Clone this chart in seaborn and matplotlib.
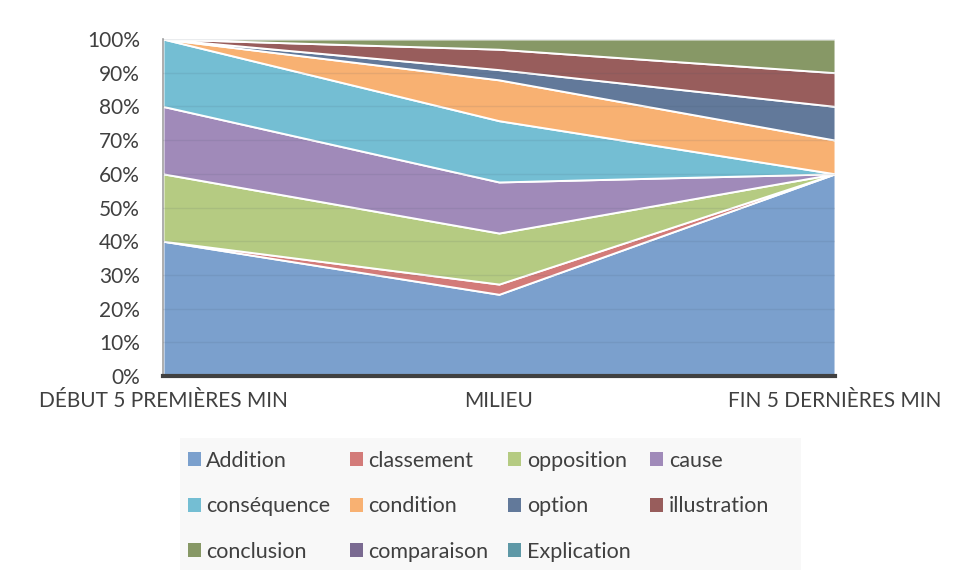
import numpy as np
import pandas as pd
import matplotlib
matplotlib.use("Agg")
import matplotlib.pyplot as plt
from matplotlib.patches import Rectangle
import seaborn as sns

# ---- data (counts of connectors per moment; shown as 100% stacked shares) ----
moments = ["DÉBUT 5 PREMIÈRES MIN", "MILIEU", "FIN 5 DERNIÈRES MIN"]
series_names = ["Addition", "classement", "opposition", "cause", "conséquence",
                "condition", "option", "illustration", "conclusion",
                "comparaison", "Explication"]
addition     = [2, 8, 6]
classement   = [0, 1, 0]
opposition   = [1, 5, 0]
cause        = [1, 5, 0]
consequence  = [1, 6, 0]
condition    = [0, 4, 1]
option       = [0, 1, 1]
illustration = [0, 2, 1]
conclusion   = [0, 1, 1]
comparaison  = [0, 0, 0]
explication  = [0, 0, 0]
y_ticks = [0, 10, 20, 30, 40, 50, 60, 70, 80, 90, 100]

colors = ["#7BA0CD", "#D37B79", "#B5CB82", "#A08AB9", "#74BED3",
          "#F8B172", "#62799A", "#985D5C", "#879866", "#7A6A91", "#5E98A6"]

df = pd.DataFrame(
    [addition, classement, opposition, cause, consequence, condition,
     option, illustration, conclusion, comparaison, explication],
    index=series_names, columns=moments).T
shares = df.div(df.sum(axis=1), axis=0) * 100

sns.set_theme(style="white")
plt.rcParams["font.family"] = ["Lato", "DejaVu Sans"]

fig = plt.figure(figsize=(9.57, 5.78), dpi=100)
ax = fig.add_axes([163 / 957, (578 - 376) / 578, (835 - 163) / 957, (376 - 39) / 578])

x = np.arange(len(moments))
polys = ax.stackplot(x, [shares[c].values for c in series_names],
                     colors=colors, labels=series_names,
                     edgecolor="white", linewidth=1.4, zorder=2)

for t in y_ticks[1:]:
    ax.axhline(t, color="#3a4a60", alpha=0.10, lw=1, zorder=3)

ax.set_xlim(0, 2)
ax.set_ylim(0, 100)
ax.set_xticks(x)
ax.set_xticklabels(moments, fontsize=15, color="#404040")
ax.set_yticks(y_ticks)
ax.set_yticklabels([f"{t}%" for t in y_ticks], fontsize=15, color="#404040")
ax.tick_params(axis="y", length=0, pad=16.5)
ax.tick_params(axis="x", length=0, pad=11)
for s in ["top", "right"]:
    ax.spines[s].set_visible(False)
ax.spines["left"].set_color("#a0a0a0")
ax.spines["left"].set_linewidth(1.2)
ax.spines["bottom"].set_color("#404040")
ax.spines["bottom"].set_linewidth(3)
ax.spines["bottom"].set_zorder(5)

# legend background box
fig.patches.append(Rectangle((180 / 957, 1 - 570 / 578), (801 - 180) / 957, (570 - 438) / 578,
                             transform=fig.transFigure, facecolor="#F8F8F8",
                             edgecolor="none", zorder=0))

handles, labels = ax.get_legend_handles_labels()
order = [0, 4, 8, 1, 5, 9, 2, 6, 10, 3, 7]
leg = fig.legend([handles[i] for i in order], [labels[i] for i in order],
                 ncol=4, loc="upper left",
                 bbox_to_anchor=(175 / 957, 1 - 570 / 578, (782 - 175) / 957, (570 - 438) / 578),
                 mode="expand", fontsize=15.5, frameon=False,
                 handlelength=0.6, handleheight=0.6, handletextpad=0.25,
                 labelspacing=1.18, borderpad=0.6, columnspacing=0.3,
                 labelcolor="#404040", borderaxespad=0)
for h in leg.legend_handles:
    h.set_edgecolor("none")

fig.savefig("out.png", dpi=100)
